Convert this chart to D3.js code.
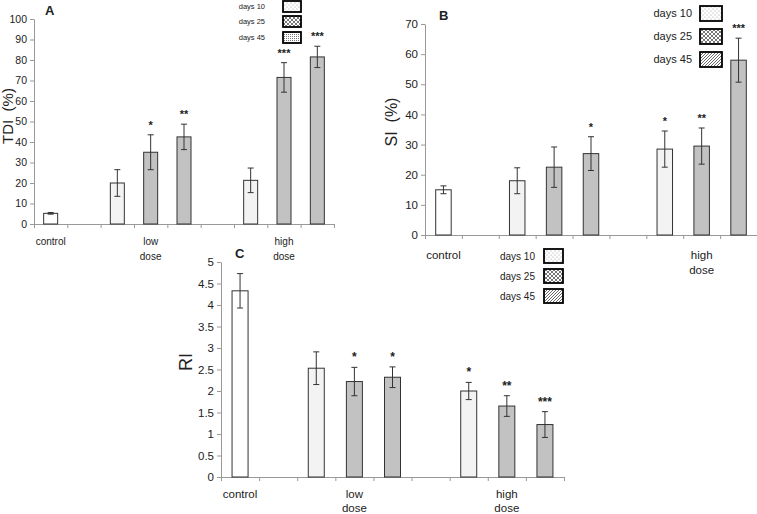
<!DOCTYPE html>
<html>
<head>
<meta charset="utf-8">
<script src="https://cdn.jsdelivr.net/npm/d3@7"></script>
<style>
  body { margin: 0; background: #fff; }
  svg { display: block; }
  text { font-family: 'Liberation Sans', Arial, sans-serif; fill: #222; }
</style>
</head>
<body>
<div id="chart"></div>
<script>
// slots along each x axis (two empty gaps between groups)
const slots = ['control', 'gap1', 'low10', 'low25', 'low45', 'gap2', 'high10', 'high25', 'high45']
const barSlots = ['control', 'low10', 'low25', 'low45', 'high10', 'high25', 'high45']
const barDays = [0, 10, 25, 45, 10, 25, 45]
const groupSlots = ['control', 'low25', 'high25']
const groupLabels = [['control'], ['low', 'dose'], ['high', 'dose']]
const legendLabels = ['days 10', 'days 25', 'days 45']

// A: TDI (%)
const tdiValues = [5.2, 20, 35, 42.5, 21.3, 71.5, 81.5]
const tdiErrors = [0.4, 6.5, 8.5, 6.2, 6, 7.2, 5.2]
const tdiStars = ['', '', '*', '**', '', '***', '***']
const tdiTicks = [0, 10, 20, 30, 40, 50, 60, 70, 80, 90, 100]

// B: SI (%)
const siValues = [15, 18, 22.5, 27, 28.5, 29.5, 58]
const siErrors = [1.3, 4.3, 6.7, 5.6, 6, 6, 7.3]
const siStars = ['', '', '', '*', '*', '**', '***']
const siTicks = [0, 10, 20, 30, 40, 50, 60, 70]

// C: RI
const riValues = [4.33, 2.53, 2.22, 2.32, 2.0, 1.65, 1.22]
const riErrors = [0.4, 0.38, 0.33, 0.24, 0.2, 0.24, 0.3]
const riStars = ['', '', '*', '*', '*', '**', '***']
const riTicks = [0, 0.5, 1, 1.5, 2, 2.5, 3, 3.5, 4, 4.5, 5]

const svg = d3.select('#chart').append('svg')
  .attr('width', 757)
  .attr('height', 514)

// legend patterns
const defs = svg.append('defs')
function pattern (id, size, draw) {
  const p = defs.append('pattern')
    .attr('id', id)
    .attr('width', size)
    .attr('height', size)
    .attr('patternUnits', 'userSpaceOnUse')
  p.append('rect').attr('width', size).attr('height', size).attr('fill', '#fff')
  draw(p)
}
pattern('dots', 4, function (p) {
  p.append('circle').attr('cx', 1).attr('cy', 1).attr('r', 0.55).attr('fill', '#999')
  p.append('circle').attr('cx', 3).attr('cy', 3).attr('r', 0.55).attr('fill', '#999')
})
pattern('cross', 4, function (p) {
  p.append('path').attr('d', 'M0,0L4,4M4,0L0,4').attr('stroke', '#555').attr('stroke-width', 0.8)
})
pattern('diag', 3, function (p) {
  p.append('path').attr('d', 'M0,3L3,0M-1,1L1,-1M2,4L4,2').attr('stroke', '#444').attr('stroke-width', 0.8)
})
pattern('dense', 2, function (p) {
  p.append('rect').attr('width', 1).attr('height', 1).attr('fill', '#777')
})

function barFill (day) {
  if (day === 0) return '#fff'
  if (day === 10) return '#f3f3f3'
  return '#c2c2c2'
}

function drawPanel (p) {
  const g = svg.append('g')
  const y = d3.scaleLinear().domain([0, p.max]).range([p.bottom, p.top])
  const x = d3.scaleBand().domain(slots).range([p.left, p.right])
  const xi = d3.scaleLinear().domain([0, slots.length]).range([p.left, p.right])

  g.append('g')
    .attr('transform', 'translate(0,' + p.bottom + ')')
    .call(d3.axisBottom(xi).tickValues(d3.range(slots.length + 1)).tickFormat('').tickSize(4).tickSizeOuter(0))
  const yAxis = g.append('g')
    .attr('transform', 'translate(' + p.left + ',0)')
    .call(d3.axisLeft(y).tickValues(p.ticks).tickFormat(function (d) { return String(d) })
      .tickSize(4).tickSizeOuter(0).tickPadding(3))
  g.selectAll('.domain, .tick line').attr('stroke', '#999')
  yAxis.selectAll('text')
    .attr('font-size', p.tickFont)
    .attr('fill', '#222')
    .style('font-family', "'Liberation Sans', Arial, sans-serif")

  const bw = x.bandwidth() * 0.42
  const data = barSlots.map(function (s, i) {
    return { slot: s, v: p.values[i], e: p.errors[i], star: p.stars[i], day: barDays[i] }
  })
  const cx = function (d) { return x(d.slot) + x.bandwidth() / 2 }

  g.selectAll('.bar').data(data).enter().append('rect')
    .attr('class', 'bar')
    .attr('x', function (d) { return cx(d) - bw / 2 })
    .attr('y', function (d) { return y(d.v) })
    .attr('width', bw)
    .attr('height', function (d) { return y(0) - y(d.v) })
    .attr('fill', function (d) { return barFill(d.day) })
    .attr('stroke', '#333')
    .attr('stroke-width', 1)

  g.selectAll('.err').data(data).enter().append('path')
    .attr('class', 'err')
    .attr('fill', 'none')
    .attr('stroke', '#333')
    .attr('stroke-width', 1)
    .attr('d', function (d) {
      const c = cx(d)
      const t = y(d.v + d.e)
      const b = y(d.v - d.e)
      return 'M' + (c - 3) + ',' + t + 'H' + (c + 3) + 'M' + c + ',' + t + 'V' + b + 'M' + (c - 3) + ',' + b + 'H' + (c + 3)
    })

  g.selectAll('.star').data(data.filter(function (d) { return d.star })).enter().append('text')
    .attr('class', 'star')
    .attr('x', cx)
    .attr('y', function (d) { return y(d.v + d.e) - 6 })
    .attr('text-anchor', 'middle')
    .attr('font-size', p.starFont)
    .attr('font-weight', 'bold')
    .text(function (d) { return d.star })

  groupSlots.forEach(function (s, i) {
    groupLabels[i].forEach(function (line, j) {
      g.append('text')
        .attr('x', x(s) + x.bandwidth() / 2)
        .attr('y', p.bottom + p.labelOffset + j * p.labelLine)
        .attr('text-anchor', 'middle')
        .attr('font-size', p.labelFont)
        .text(line)
    })
  })

  g.append('text')
    .attr('transform', 'translate(' + p.titleX + ',' + p.titleY + ') rotate(-90)')
    .attr('text-anchor', 'middle')
    .attr('font-size', p.titleFont)
    .style('white-space', 'pre')
    .text(p.title)

  g.append('text')
    .attr('x', p.letterX)
    .attr('y', p.letterY)
    .attr('font-size', 13)
    .attr('font-weight', 'bold')
    .attr('fill', '#000')
    .text(p.letter)

  // legend
  const lg = g.append('g')
  const L = p.legend
  if (L.bg) {
    lg.append('rect').attr('x', L.bg[0]).attr('y', L.bg[1]).attr('width', L.bg[2]).attr('height', L.bg[3]).attr('fill', '#fff')
  }
  legendLabels.forEach(function (lab, i) {
    lg.append('rect')
      .attr('x', L.x)
      .attr('y', L.tops[i])
      .attr('width', L.w)
      .attr('height', L.h)
      .attr('fill', 'url(#' + L.patterns[i] + ')')
      .attr('stroke', '#000')
      .attr('stroke-width', 1.8)
    lg.append('text')
      .attr('x', L.x - L.gap)
      .attr('y', L.tops[i] + L.h / 2)
      .attr('dy', '0.35em')
      .attr('text-anchor', 'end')
      .attr('font-size', L.font)
      .text(lab)
  })
}

drawPanel({
  left: 34, right: 334, top: 19, bottom: 224, max: 100,
  ticks: tdiTicks, values: tdiValues, errors: tdiErrors, stars: tdiStars,
  tickFont: 10.5, starFont: 11, labelFont: 10, labelOffset: 21, labelLine: 15,
  title: 'TDI  (%)', titleX: 13, titleY: 116, titleFont: 15,
  letter: 'A', letterX: 45, letterY: 15,
  legend: { x: 283, w: 18, h: 11, tops: [1, 16, 32], gap: 18, font: 7.5, patterns: ['dots', 'cross', 'dense'] }
})

drawPanel({
  left: 425, right: 757, top: 24, bottom: 235, max: 70,
  ticks: siTicks, values: siValues, errors: siErrors, stars: siStars,
  tickFont: 11.5, starFont: 11, labelFont: 11.5, labelOffset: 24, labelLine: 15,
  title: 'SI  (%)', titleX: 397, titleY: 122, titleFont: 16,
  letter: 'B', letterX: 439, letterY: 20,
  legend: { x: 700, w: 22, h: 15, tops: [6, 29, 52], gap: 8, font: 11, patterns: ['dots', 'cross', 'diag'] }
})

drawPanel({
  left: 221, right: 564, top: 262, bottom: 477, max: 5,
  ticks: riTicks, values: riValues, errors: riErrors, stars: riStars,
  tickFont: 11.5, starFont: 12, labelFont: 11.5, labelOffset: 21, labelLine: 14,
  title: 'RI', titleX: 192, titleY: 362, titleFont: 18,
  letter: 'C', letterX: 235, letterY: 258,
  legend: { x: 544, w: 19, h: 14, tops: [249, 269, 289], gap: 9, font: 10, patterns: ['dots', 'cross', 'diag'], bg: [496, 243, 72, 64] }
})
</script>
</body>
</html>
